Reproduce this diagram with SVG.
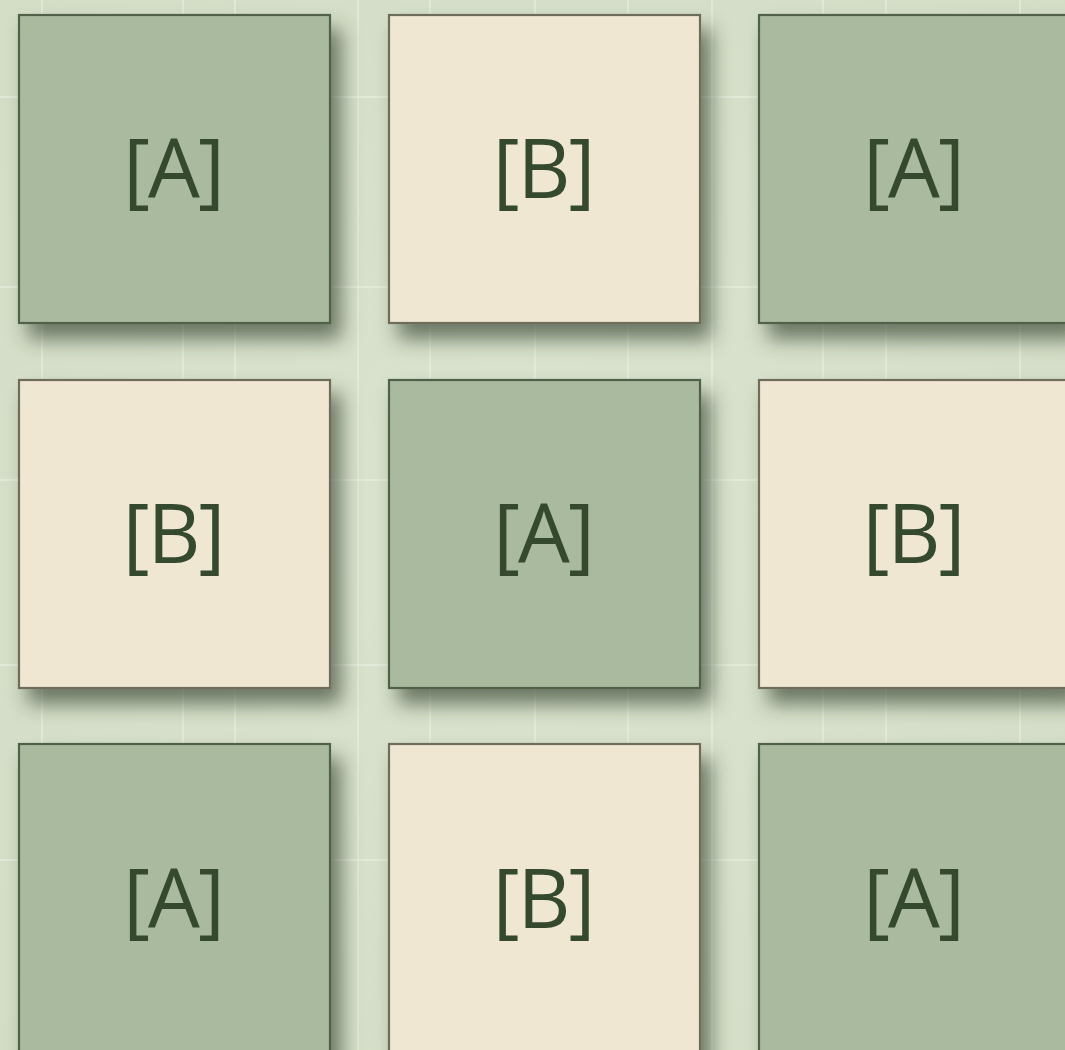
<svg xmlns="http://www.w3.org/2000/svg" width="1065" height="1050" viewBox="0 0 1065 1050">
<defs>
<radialGradient id="bg" cx="0.5" cy="0.5" r="0.75">
<stop offset="0" stop-color="#dae3ce"/>
<stop offset="1" stop-color="#d3ddc6"/>
</radialGradient>
<filter id="sh" x="-15%" y="-15%" width="140%" height="140%">
<feDropShadow dx="10" dy="15" stdDeviation="10" flood-color="#33402b" flood-opacity="0.65"/>
</filter>
</defs>
<style>
.grid line{stroke:#eef3e6;stroke-width:2;opacity:0.5}
.a rect{fill:#a9ba9f;stroke:#4f6249;stroke-width:2.2;filter:url(#sh)}
.b rect{fill:#efe7d2;stroke:#6e6c5a;stroke-width:2.2;filter:url(#sh)}
text{font-family:"Open Sans","Liberation Sans",sans-serif;font-size:82px;letter-spacing:-2px;fill:#35492f;text-anchor:middle}
</style>
<rect width="1065" height="1050" fill="url(#bg)"/>
<g class="grid">
<line x1="42" y1="0" x2="42" y2="1050"/>
<line x1="235" y1="0" x2="235" y2="1050"/>
<line x1="430" y1="0" x2="430" y2="1050"/>
<line x1="628" y1="0" x2="628" y2="1050"/>
<line x1="823" y1="0" x2="823" y2="1050"/>
<line x1="1020" y1="0" x2="1020" y2="1050"/>
<line x1="183" y1="0" x2="183" y2="1050"/>
<line x1="358" y1="0" x2="358" y2="1050"/>
<line x1="535" y1="0" x2="535" y2="1050"/>
<line x1="712" y1="0" x2="712" y2="1050"/>
<line x1="886" y1="0" x2="886" y2="1050"/>
<line x1="0" y1="97" x2="1065" y2="97"/>
<line x1="0" y1="287" x2="1065" y2="287"/>
<line x1="0" y1="480" x2="1065" y2="480"/>
<line x1="0" y1="665" x2="1065" y2="665"/>
<line x1="0" y1="860" x2="1065" y2="860"/>
</g>
<g id="tile-r1c1" class="a"><rect x="19" y="15" width="311" height="308"/><text x="173" y="198">[A]</text></g>
<g id="tile-r1c2" class="b"><rect x="389" y="15" width="311" height="308"/><text x="543" y="198">[B]</text></g>
<g id="tile-r1c3" class="a"><rect x="759" y="15" width="311" height="308"/><text x="913" y="198">[A]</text></g>
<g id="tile-r2c1" class="b"><rect x="19" y="380" width="311" height="308"/><text x="173" y="563">[B]</text></g>
<g id="tile-r2c2" class="a"><rect x="389" y="380" width="311" height="308"/><text x="543" y="563">[A]</text></g>
<g id="tile-r2c3" class="b"><rect x="759" y="380" width="311" height="308"/><text x="913" y="563">[B]</text></g>
<g id="tile-r3c1" class="a"><rect x="19" y="744" width="311" height="320"/><text x="173" y="928">[A]</text></g>
<g id="tile-r3c2" class="b"><rect x="389" y="744" width="311" height="320"/><text x="543" y="928">[B]</text></g>
<g id="tile-r3c3" class="a"><rect x="759" y="744" width="311" height="320"/><text x="913" y="928">[A]</text></g>
<g id="connectors"/>
</svg>
